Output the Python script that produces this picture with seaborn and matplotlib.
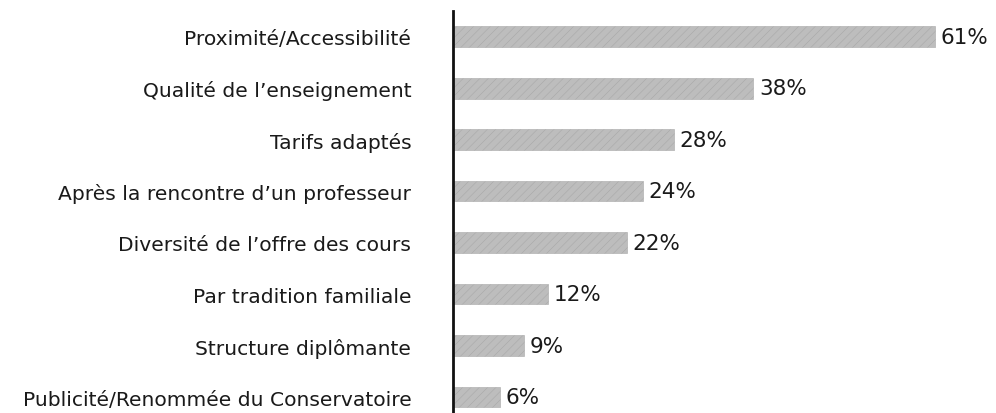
import matplotlib
matplotlib.use("Agg")
import matplotlib.pyplot as plt
import seaborn as sns
import pandas as pd

# === Données ===
raisons = [
    "Proximité/Accessibilité",
    "Qualité de l’enseignement",
    "Tarifs adaptés",
    "Après la rencontre d’un professeur",
    "Diversité de l’offre des cours",
    "Par tradition familiale",
    "Structure diplômante",
    "Publicité/Renommée du Conservatoire",
]
pourcentages = [61, 38, 28, 24, 22, 12, 9, 6]

df = pd.DataFrame({"raison": raisons, "pct": pourcentages})

sns.set_style("white")
plt.rcParams["font.family"] = ["DejaVu Sans"]
plt.rcParams["hatch.color"] = "#8a8a8a"
plt.rcParams["hatch.linewidth"] = 0.4

fig = plt.figure(figsize=(9.96, 4.14), dpi=100)
ax = fig.add_axes([453 / 996, 0, 543 / 996, 402 / 414])

sns.barplot(data=df, x="pct", y="raison", color="#bdbdbd", width=0.4,
            edgecolor="#a8a8a8", linewidth=0.4, hatch="////", ax=ax)

for i, v in enumerate(pourcentages):
    ax.text(v + 0.7, i, f"{v}%", va="center", ha="left", fontsize=15.5, color="#1a1a1a")

ax.set_xlim(0, 68.7)
ax.set_ylim(7.31, -0.5)
ax.set_xlabel("")
ax.set_ylabel("")
ax.set_xticks([])
ax.tick_params(axis="y", length=0, pad=30, labelsize=14.6, labelcolor="#1a1a1a")
for s in ["top", "right", "bottom"]:
    ax.spines[s].set_visible(False)
ax.spines["left"].set_linewidth(2)
ax.spines["left"].set_color("#111111")

fig.savefig("out.png", dpi=100)
